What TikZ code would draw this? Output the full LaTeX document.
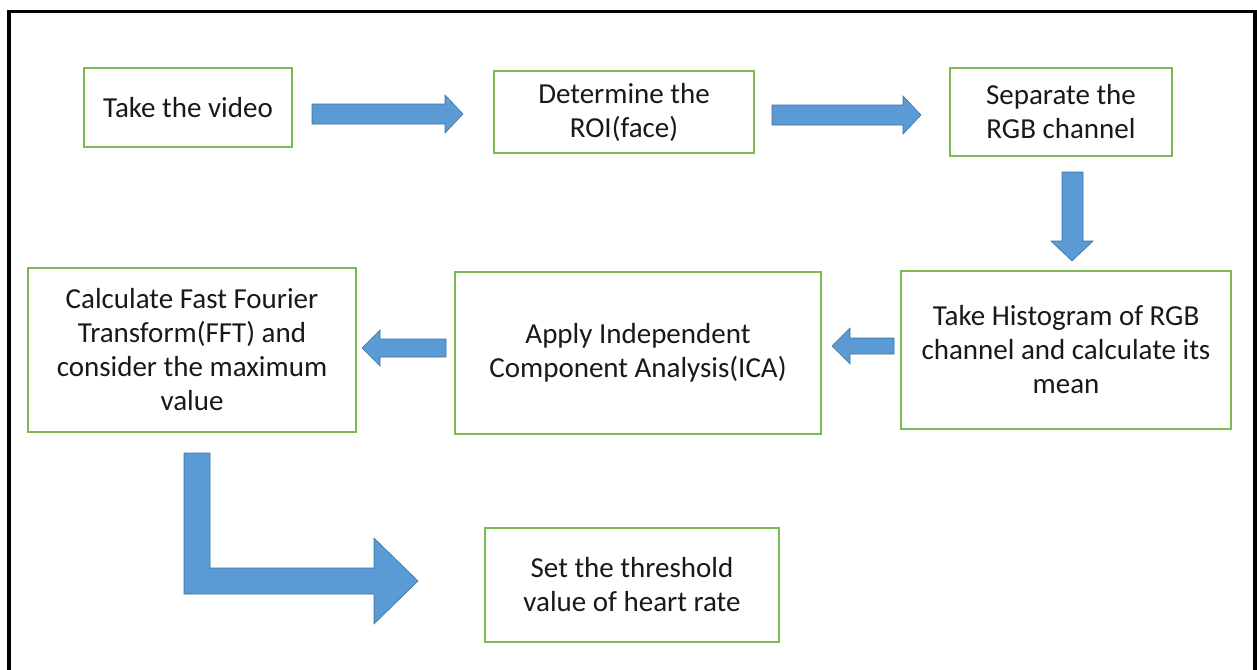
\documentclass[tikz,border=0pt]{standalone}
\usepackage{fontspec}
\setmainfont{Carlito}
\definecolor{boxgreen}{RGB}{125,185,85}
\definecolor{arrowfill}{RGB}{91,155,213}
\definecolor{arrowline}{RGB}{65,113,156}
\definecolor{txt}{RGB}{25,25,25}
\tikzset{
  stepbox/.style={draw=boxgreen, line width=1.4pt, fill=white, align=center,
    text=txt, font=\fontsize{29}{34}\selectfont, inner sep=0pt},
  blockarrow/.style={fill=arrowfill, draw=arrowline, line width=0.6pt, line join=miter},
}
\begin{document}
\begin{tikzpicture}[x=1pt,y=-1pt]
\useasboundingbox (0,0) rectangle (1257,669);
\fill[white] (0,0) rectangle (1257,669);
\draw[line width=3.5pt] (9,700) -- (9,11.5) -- (1255,11.5) -- (1255,700);
% boxes
\node[stepbox, minimum width=208pt, minimum height=79pt] (b1) at (188,107.5) {Take the video};
\node[stepbox, minimum width=260pt, minimum height=82pt] (b2) at (624,112) {Determine the\\ROI(face)};
\node[stepbox, minimum width=222pt, minimum height=88pt] (b3) at (1061,112) {Separate the\\RGB channel};
\node[stepbox, minimum width=330pt, minimum height=158pt] (b4) at (1066,350) {Take Histogram of RGB\\channel and calculate its\\mean};
\node[stepbox, minimum width=366pt, minimum height=162pt] (b5) at (638,353) {Apply Independent\\Component Analysis(ICA)};
\node[stepbox, minimum width=328pt, minimum height=164pt] (b6) at (192,350) {Calculate Fast Fourier\\Transform(FFT) and\\consider the maximum\\value};
\node[stepbox, minimum width=294pt, minimum height=114pt] (b7) at (632,585) {Set the threshold\\value of heart rate};
% arrows
\draw[blockarrow] (312,104) -- (445,104) -- (445,95) -- (463,114) -- (445,133) -- (445,124) -- (312,124) -- cycle;
\draw[blockarrow] (772,105) -- (903,105) -- (903,96) -- (921,115) -- (903,134) -- (903,125) -- (772,125) -- cycle;
\draw[blockarrow] (1062,172) -- (1083,172) -- (1083,241) -- (1093,241) -- (1072,261) -- (1051,241) -- (1062,241) -- cycle;
\draw[blockarrow] (894,338) -- (850,338) -- (850,328) -- (832,346) -- (850,364) -- (850,354) -- (894,354) -- cycle;
\draw[blockarrow] (446,339) -- (380,339) -- (380,330) -- (362,348) -- (380,366) -- (380,357) -- (446,357) -- cycle;
\draw[blockarrow] (184,453) -- (210,453) -- (210,568) -- (374,568) -- (374,538) -- (418,581) -- (374,624) -- (374,594) -- (184,594) -- cycle;
\end{tikzpicture}
\end{document}
